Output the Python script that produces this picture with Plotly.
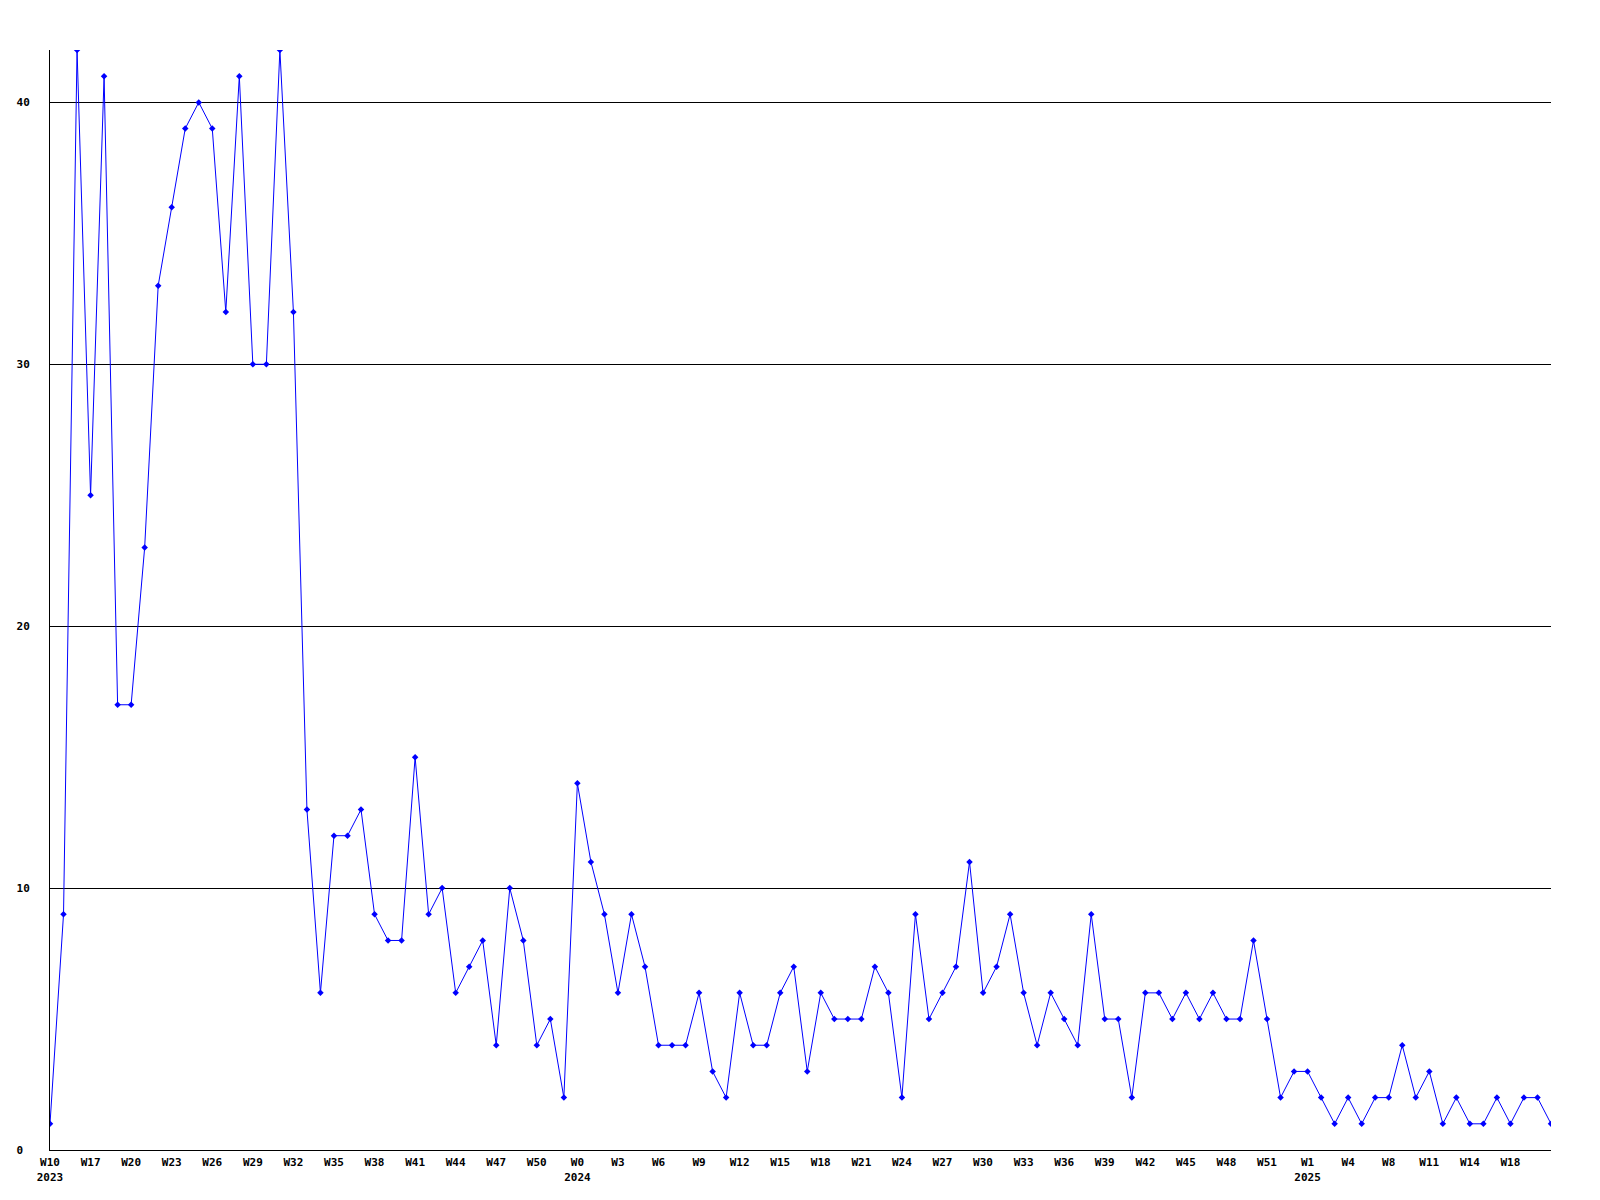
import plotly.graph_objects as go

values = [1, 9, 42, 25, 41, 17, 17, 23, 33, 36,
          39, 40, 39, 32, 41, 30, 30, 42, 32, 13,
          6, 12, 12, 13, 9, 8, 8, 15, 9, 10,
          6, 7, 8, 4, 10, 8, 4, 5, 2, 14,
          11, 9, 6, 9, 7, 4, 4, 4, 6, 3,
          2, 6, 4, 4, 6, 7, 3, 6, 5, 5,
          5, 7, 6, 2, 9, 5, 6, 7, 11, 6,
          7, 9, 6, 4, 6, 5, 4, 9, 5, 5,
          2, 6, 6, 5, 6, 5, 6, 5, 5, 8,
          5, 2, 3, 3, 2, 1, 2, 1, 2, 2,
          4, 2, 3, 1, 2, 1, 1, 2, 1, 2,
          2, 1]

tick_labels = ["W10<br>2023", "W17", "W20", "W23", "W26", "W29", "W32", "W35", "W38",
               "W41", "W44", "W47", "W50", "W0<br>2024", "W3", "W6", "W9", "W12",
               "W15", "W18", "W21", "W24", "W27", "W30", "W33", "W36", "W39", "W42",
               "W45", "W48", "W51", "W1<br>2025", "W4", "W8", "W11", "W14", "W18"]
tick_step = 3

y_ticks = [0, 10, 20, 30, 40]
y_tick_text = ["0\u00a0", "10", "20", "30", "40"]

x = list(range(len(values)))
tick_positions = [i * tick_step for i in range(len(tick_labels))]

font = dict(family="DejaVu Sans Mono", size=11, color="black", weight="bold")

fig = go.Figure()
fig.add_trace(go.Scatter(
    x=x, y=values, mode="lines+markers",
    line=dict(color="#0000ff", width=1),
    marker=dict(symbol="diamond", size=5, color="#0000ff"),
    hoverinfo="skip",
))

fig.update_layout(
    width=1600, height=1200,
    margin=dict(l=50, r=49, t=50, b=50),
    paper_bgcolor="white", plot_bgcolor="white",
    showlegend=False,
    font=font,
)
fig.update_xaxes(
    range=[0, len(values) - 1],
    tickmode="array", tickvals=tick_positions, ticktext=tick_labels,
    showgrid=False, zeroline=False,
    showline=True, linecolor="black", linewidth=1,
    ticks="", tickfont=font, ticklabelstandoff=2,
)
fig.update_yaxes(
    range=[0, 42],
    tickmode="array", tickvals=y_ticks, ticktext=y_tick_text,
    showgrid=True, gridcolor="black", gridwidth=1,
    zeroline=False,
    showline=True, linecolor="black", linewidth=1,
    ticks="", tickfont=font, ticklabelstandoff=17,
)

fig.write_html("out.html", config={"displayModeBar": False},
               post_script="document.body.style.margin='0';")
